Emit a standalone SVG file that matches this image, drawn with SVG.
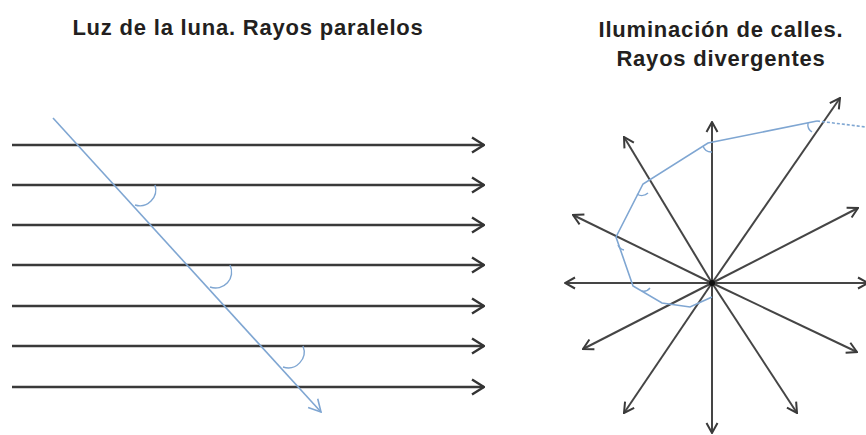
<svg xmlns="http://www.w3.org/2000/svg" width="866" height="435" viewBox="0 0 866 435">
<style>
.title{font-family:"Liberation Sans",Arial,sans-serif;font-weight:bold;font-size:22px;letter-spacing:0.8px;fill:#231f20;text-anchor:middle}
.ray{stroke:#3a3a3a;stroke-width:2.4;fill:none}
.ray2{stroke:#454545;stroke-width:2;fill:none}
.blue{stroke:#7fa6d2;stroke-width:1.6;fill:none}
.arc{stroke:#7fa6d2;stroke-width:1.4;fill:none}
</style>
<defs>
<marker id="ah" viewBox="0 0 14 18" refX="13" refY="9" markerWidth="14" markerHeight="18" markerUnits="userSpaceOnUse" orient="auto">
<path d="M1,1.5 L13,9 L1,16.5" fill="none" stroke="#333" stroke-width="2.4"/>
</marker>
<marker id="ah2" viewBox="0 0 12 14" refX="11" refY="7" markerWidth="12" markerHeight="14" markerUnits="userSpaceOnUse" orient="auto">
<path d="M1,1.5 L11,7 L1,12.5" fill="none" stroke="#3a3a3a" stroke-width="2"/>
</marker>
<marker id="bh" viewBox="0 0 14 16" refX="13" refY="8" markerWidth="14" markerHeight="16" markerUnits="userSpaceOnUse" orient="auto">
<path d="M1,1.5 L13,8 L1,14.5" fill="none" stroke="#7fa6d2" stroke-width="1.6"/>
</marker>
</defs>
<rect width="866" height="435" fill="#fff"/>
<g id="title-left"><text class="title" x="248" y="35">Luz de la luna. Rayos paralelos</text></g>
<g id="title-right"><text class="title" x="721" y="37">Iluminación de calles.</text><text class="title" x="721" y="66">Rayos divergentes</text></g>
<g id="connectors">
<g id="parallel-rays">
<line class="ray" x1="12" y1="145" x2="484" y2="145" marker-end="url(#ah)"/>
<line class="ray" x1="12" y1="185" x2="484" y2="185" marker-end="url(#ah)"/>
<line class="ray" x1="12" y1="225" x2="484" y2="225" marker-end="url(#ah)"/>
<line class="ray" x1="12" y1="265" x2="484" y2="265" marker-end="url(#ah)"/>
<line class="ray" x1="12" y1="306" x2="484" y2="306" marker-end="url(#ah)"/>
<line class="ray" x1="12" y1="346" x2="484" y2="346" marker-end="url(#ah)"/>
<line class="ray" x1="12" y1="387" x2="484" y2="387" marker-end="url(#ah)"/>
</g>
<g id="blue-line">
<line class="blue" x1="53" y1="118" x2="321" y2="412" marker-end="url(#bh)"/>
<path class="arc" d="M155,185 A16 16 0 0 1 135,205"/>
<path class="arc" d="M230,265 A16 16 0 0 1 210,287"/>
<path class="arc" d="M303,346 A16 16 0 0 1 283,367"/>
</g>
<g id="divergent-rays">
<line class="ray2" x1="712" y1="283" x2="712" y2="122" marker-end="url(#ah2)"/>
<line class="ray2" x1="712" y1="283" x2="712" y2="433" marker-end="url(#ah2)"/>
<line class="ray2" x1="712" y1="283" x2="565" y2="283" marker-end="url(#ah2)"/>
<line class="ray2" x1="712" y1="283" x2="868" y2="283" marker-end="url(#ah2)"/>
<line class="ray2" x1="712" y1="283" x2="624" y2="137" marker-end="url(#ah2)"/>
<line class="ray2" x1="712" y1="283" x2="573" y2="215" marker-end="url(#ah2)"/>
<line class="ray2" x1="712" y1="283" x2="583" y2="349" marker-end="url(#ah2)"/>
<line class="ray2" x1="712" y1="283" x2="624" y2="413" marker-end="url(#ah2)"/>
<line class="ray2" x1="712" y1="283" x2="797" y2="413" marker-end="url(#ah2)"/>
<line class="ray2" x1="712" y1="283" x2="857" y2="352" marker-end="url(#ah2)"/>
<line class="ray2" x1="712" y1="283" x2="858" y2="208" marker-end="url(#ah2)"/>
<line class="ray2" x1="712" y1="283" x2="840" y2="98" marker-end="url(#ah2)"/>
<circle cx="712" cy="283" r="3" fill="#111"/>
</g>
<g id="wavefront">
<polyline class="blue" points="712,297 690,307 662,303 633,286 616,237 643,184 708,143 817,121"/>
<polyline class="blue" stroke-dasharray="3 2" points="817,121 866,127"/>
<path class="arc" d="M703,146 A9 9 0 0 0 712,152"/>
<path class="arc" d="M637,194 A9 9 0 0 0 648,193"/>
<path class="arc" d="M618,245 A8 8 0 0 0 624,250"/>
<path class="arc" d="M642,291 A8 8 0 0 0 650,288"/>
<path class="arc" d="M808,123 A9 9 0 0 0 812,132"/>
</g>
</g>
</svg>
